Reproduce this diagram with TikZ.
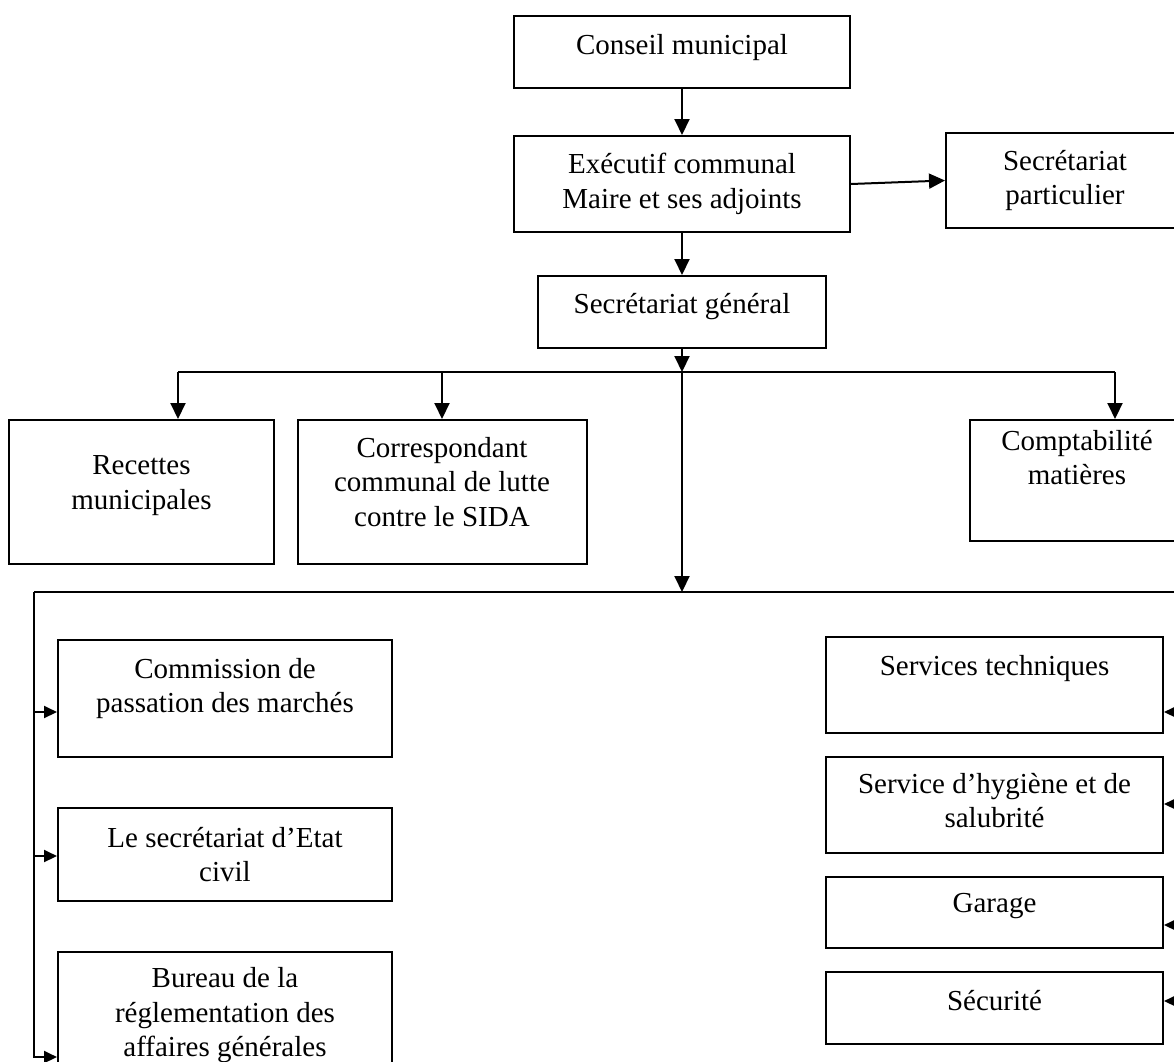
\documentclass[tikz,border=0pt]{standalone}
\usepackage{fontspec}
\setmainfont{Liberation Serif}
\usetikzlibrary{positioning,arrows.meta,calc}
%% invisible strut that lowers the last line's depth (text sits higher)
\newcommand{\lift}[1]{\rule[-#1pt]{0pt}{#1pt}}

\begin{document}
\begin{tikzpicture}[
  x=1pt, y=-1pt,
  every node/.style={font=\fontsize{29}{34.5}\selectfont},
  %% framed unit box  \node[unit={w}{h}]
  unit/.style 2 args={
    draw, line width=2pt,
    minimum width=#1pt, minimum height=#2pt,
    align=center, inner sep=0pt
  },
  %% connectors
  arr/.style={-{Triangle[length=16pt,width=15pt]}, line width=2pt},
  side/.style={-{Triangle[length=13pt,width=12pt]}, line width=2pt},
  bus/.style={-, line width=2pt},
]
\useasboundingbox (0,0) rectangle (1174,1061);
\fill[white] (0,0) rectangle (1174,1061);
\clip (0,0) rectangle (1174,1061);

%%── Council, executive, general secretariat ─────────────────────────────────
\node[unit={336}{72}] (cons) at (682,52) {Conseil municipal\lift{16}};
\node[unit={336}{96}] (exec) at (682,184)
  {Exécutif communal\\Maire et ses adjoints};
\node[unit={238}{95}] (part) at (1065,180.5)
  {Secrétariat\\particulier};
\node[unit={288}{72}] (sg) at (682,312) {Secrétariat général\lift{18}};

%%── First row under the secretariat ─────────────────────────────────────────
\node[unit={265}{144}] (rec) at (141.5,492)
  {Recettes\\municipales\lift{19}};
\node[unit={289}{144}] (corr) at (442,492)
  {Correspondant\\communal de lutte\\contre le SIDA\lift{21}};
\node[unit={214}{121}] (compt) at (1077,480.5)
  {Comptabilité\\matières\lift{46}};

%%── Left column ─────────────────────────────────────────────────────────────
\node[unit={334}{117}] (comm) at (225,698.5)
  {Commission de\\passation des marchés\lift{26}};
\node[unit={334}{93}] (etat) at (225,854.5)
  {Le secrétariat d’Etat\\civil};
\node[unit={334}{127}] (bur) at (225,1015.5)
  {Bureau de la\\réglementation des\\affaires générales};

%%── Right column ────────────────────────────────────────────────────────────
\node[unit={337}{96}] (tech) at (994.5,685) {Services techniques\lift{40}};
\node[unit={337}{96}] (hyg) at (994.5,805)
  {Service d’hygiène et de\\salubrité\lift{9}};
\node[unit={337}{71}] (gar) at (994.5,912.5) {Garage\lift{19}};
\node[unit={337}{72}] (secu) at (994.5,1008) {Sécurité\lift{16}};

%%── Bus points ──────────────────────────────────────────────────────────────
\coordinate (hub)  at (682,372);
\coordinate (busL) at (178,372);
\coordinate (busR) at (1115,372);
\coordinate (hub2) at (682,592);
\coordinate (lowL) at (34,592);
\coordinate (lowR) at (1181,592);
\coordinate (l1) at (34,712);
\coordinate (l2) at (34,856);
\coordinate (l3) at (34,1057);
\coordinate (r1) at (1181,712);
\coordinate (r2) at (1181,804);
\coordinate (r3) at (1181,925);
\coordinate (r4) at (1181,1001);

%%── Main chain ──────────────────────────────────────────────────────────────
\draw[arr] (cons) -- (exec);
\draw[arr] (exec.east) -- (part.west);
\draw[arr] (exec) -- (sg);
\draw[arr] (sg) -- (hub);

%%── Upper bus ───────────────────────────────────────────────────────────────
\draw[bus] (busL) -- (busR);
\draw[arr] (busL) -- (busL |- rec.north);
\draw[arr] (corr.north |- hub) -- (corr.north);
\draw[arr] (busR) -- (busR |- compt.north);
\draw[arr] (hub) -- (hub2);

%%── Lower bus and side branches ─────────────────────────────────────────────
\draw[bus] (lowL) -- (lowR);
\draw[side] (lowL) |- (l3 -| bur.west);
\draw[side] (l1) -- (l1 -| comm.west);
\draw[side] (l2) -- (l2 -| etat.west);
\draw[bus] (lowR) -- (r4);
\draw[side] (r1) -- (r1 -| tech.east);
\draw[side] (r2) -- (r2 -| hyg.east);
\draw[side] (r3) -- (r3 -| gar.east);
\draw[side] (r4) -- (r4 -| secu.east);

\end{tikzpicture}
\end{document}
